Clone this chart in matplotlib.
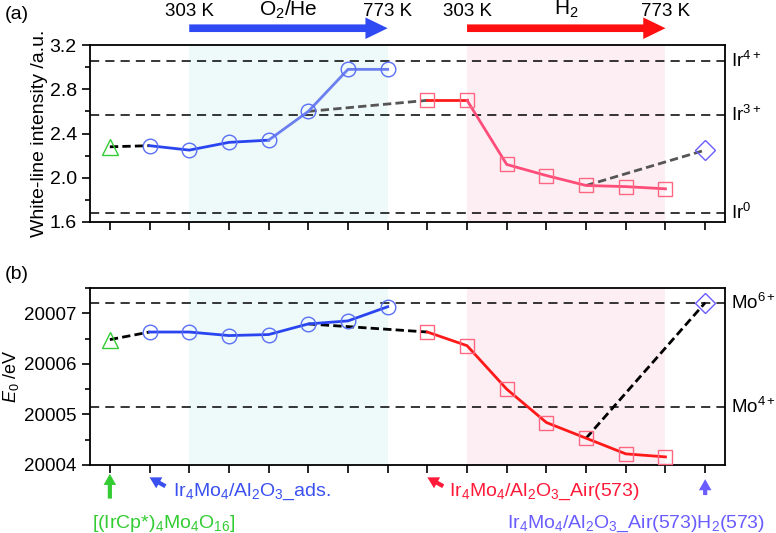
import matplotlib
matplotlib.use('Agg')
import matplotlib.pyplot as plt
from matplotlib.ticker import MultipleLocator, NullFormatter, FormatStrFormatter
import matplotlib.transforms as mtransforms

plt.rcParams['font.family'] = ['Liberation Sans', 'DejaVu Sans']
plt.rcParams['mathtext.fontset'] = 'custom'
plt.rcParams['mathtext.rm'] = 'Liberation Sans'
plt.rcParams['mathtext.it'] = 'Liberation Sans:italic'

# sample positions along the treatment sequence
pos = list(range(16))

# (a) white-line intensity
wl_ref = 2.28                      # [(IrCp*)4Mo4O16]
wl_o2 = [2.29, 2.25, 2.32, 2.34, 2.60, 2.98, 2.98]    # idx 1..7
wl_h2 = [2.70, 2.70, 2.12, 2.02, 1.93, 1.92, 1.90]    # idx 8..14
wl_end = 2.25                      # idx 15
ir_levels = [3.055, 2.567, 1.678]
ir_names = ['Ir$^{4+}$', 'Ir$^{3+}$', 'Ir$^{0}$']

# (b) E0
e0_ref = 20006.48
e0_o2 = [20006.63, 20006.63, 20006.56, 20006.58, 20006.79, 20006.85, 20007.13]
e0_h2 = [20006.63, 20006.36, 20005.50, 20004.84, 20004.53, 20004.22, 20004.16]
e0_end = 20007.21
mo_levels = [20007.21, 20005.14]
mo_names = ['Mo$^{6+}$', 'Mo$^{4+}$']

BLUE = '#2a45f0'
BLUE2 = '#6b7ff0'
CIRC = '#5a70f5'
RED = '#ff1a1a'
PINK = '#ff4d7a'
SQ = '#ff6680'
GREEN = '#33cc33'
PURPLE = '#6a5cff'
CYAN_BG = '#eef9f9'
PINK_BG = '#fdeef4'

fig = plt.figure(figsize=(7.76, 5.33), dpi=100)
axa = fig.add_axes([0.116, 0.5835, 0.8183, 0.332])
axb = fig.add_axes([0.116, 0.1276, 0.8183, 0.332])

o2x = pos[1:8]
h2x = pos[8:15]

for ax in (axa, axb):
    ax.set_xlim(-0.5, 15.5)
    ax.axvspan(2, 7, color=CYAN_BG, zorder=0, lw=0)
    ax.axvspan(9, 14, color=PINK_BG, zorder=0, lw=0)
    ax.set_xticks(pos)
    ax.xaxis.set_major_formatter(NullFormatter())
    ax.tick_params(axis='x', direction='out', length=6, width=1.2, top=False)
    ax.tick_params(axis='y', which='major', direction='out', length=6, width=1.2, labelsize=14, right=False)
    ax.tick_params(axis='y', which='minor', direction='out', length=3.5, width=1.2, right=False)
    for s in ax.spines.values():
        s.set_linewidth(1.3)

# ---- panel (a)
ax = axa
for lv in ir_levels:
    ax.axhline(lv, color='k', lw=1.1, dashes=(6, 4), zorder=1)
ax.plot([0, 1], [wl_ref, wl_o2[0]], color='k', lw=2, dashes=(3, 1.5), zorder=2)
ax.plot([5, 8], [wl_o2[4], wl_h2[0]], color='#555555', lw=2, dashes=(3, 1.5), zorder=2)
ax.plot([12, 15], [wl_h2[4], wl_end], color='#555555', lw=2, dashes=(3, 1.5), zorder=2)
ax.plot(o2x[:4], wl_o2[:4], color=BLUE, lw=2, zorder=3)
ax.plot(o2x[3:], wl_o2[3:], color=BLUE2, lw=2, zorder=3)
ax.plot(h2x[:2], wl_h2[:2], color=RED, lw=2, zorder=3)
ax.plot(h2x[1:], wl_h2[1:], color=PINK, lw=2, zorder=3)
ax.plot(o2x, wl_o2, 'o', ms=10.5, mfc='none', mec=CIRC, mew=1, zorder=4)
ax.plot(h2x, wl_h2, 's', ms=10, mfc='none', mec=SQ, mew=1, zorder=4)
ax.plot([0], [wl_ref], '^', ms=12, mfc='none', mec=GREEN, mew=1, zorder=4)
ax.plot([15], [wl_end], 'D', ms=10, mfc='none', mec=PURPLE, mew=1, zorder=4)
ax.set_ylim(1.6, 3.2)
ax.yaxis.set_major_locator(MultipleLocator(0.4))
ax.yaxis.set_minor_locator(MultipleLocator(0.2))
ax.yaxis.set_major_formatter(FormatStrFormatter('%.1f'))
ax.set_ylabel('White-line intensity /a.u.', fontsize=14)
ax.yaxis.set_label_coords(-0.066, 0.5)
tr = mtransforms.blended_transform_factory(ax.transAxes, ax.transData)
for lv, nm in zip(ir_levels, ir_names):
    ax.text(1.01, lv, nm, transform=tr, fontsize=13.5, va='center', ha='left')
ax.text(-0.134, 1.17, '(a)', transform=ax.transAxes, fontsize=14, va='center')

# treatment arrows
bta = mtransforms.blended_transform_factory(ax.transData, ax.transAxes)
for x0, x1, col, gas in [(2, 7, '#2f4af2', 'O$_2$/He'), (9, 14, '#ff1010', 'H$_2$')]:
    ax.annotate('', xy=(x1, 1.095), xytext=(x0, 1.095), xycoords=bta, textcoords=bta,
                annotation_clip=False,
                arrowprops=dict(arrowstyle='simple,head_length=1.6,head_width=1.55,tail_width=0.55',
                                mutation_scale=10, color=col, lw=0, shrinkA=0, shrinkB=0))
    ax.text(x0, 1.19, '303 K', transform=bta, fontsize=13.5, ha='center', va='center')
    ax.text(x1, 1.19, '773 K', transform=bta, fontsize=13.5, ha='center', va='center')
    ax.text((x0 + x1) / 2, 1.2, gas, transform=bta, fontsize=15, ha='center', va='center')

# ---- panel (b)
ax = axb
for lv in mo_levels:
    ax.axhline(lv, color='k', lw=1.1, dashes=(6, 4), zorder=1)
ax.plot([0, 1], [e0_ref, e0_o2[0]], color='k', lw=2, dashes=(3, 1.5), zorder=2)
ax.plot([5, 8], [e0_o2[4], e0_h2[0]], color='k', lw=2, dashes=(3, 1.5), zorder=2)
ax.plot([12, 15], [e0_h2[4], e0_end], color='k', lw=2, dashes=(3, 1.5), zorder=2)
ax.plot(o2x, e0_o2, color=BLUE, lw=2, zorder=3)
ax.plot(h2x, e0_h2, color=RED, lw=2, zorder=3)
ax.plot(o2x, e0_o2, 'o', ms=10.5, mfc='none', mec=CIRC, mew=1, zorder=4)
ax.plot(h2x, e0_h2, 's', ms=10, mfc='none', mec=SQ, mew=1, zorder=4)
ax.plot([0], [e0_ref], '^', ms=12, mfc='none', mec=GREEN, mew=1, zorder=4)
ax.plot([15], [e0_end], 'D', ms=10, mfc='none', mec=PURPLE, mew=1, zorder=4)
ax.set_ylim(20004, 20007.5)
ax.yaxis.set_major_locator(MultipleLocator(1))
ax.yaxis.set_minor_locator(MultipleLocator(0.5))
ax.yaxis.set_major_formatter(FormatStrFormatter('%d'))
ax.tick_params(axis='y', which='major', labelsize=13.5)
ax.set_ylabel('$E_0$ /eV', fontsize=13)
ax.yaxis.set_label_coords(-0.108, 0.5)
tr = mtransforms.blended_transform_factory(ax.transAxes, ax.transData)
for lv, nm in zip(mo_levels, mo_names):
    ax.text(1.01, lv, nm, transform=tr, fontsize=13.5, va='center', ha='left')
ax.text(-0.134, 1.075, '(b)', transform=ax.transAxes, fontsize=14, va='center')

# sample labels under panel (b)
bt = mtransforms.blended_transform_factory(ax.transData, ax.transAxes)
samples = [
    (GREEN, (0, -0.05), (0, -0.19), '[(IrCp*)$_4$Mo$_4$O$_{16}$]', (-0.45, -0.33)),
    ('#3a50f0', (1, -0.07), (1.4, -0.12), 'Ir$_4$Mo$_4$/Al$_2$O$_3$_ads.', (1.6, -0.15)),
    ('#ff1a3a', (8, -0.07), (8.4, -0.12), 'Ir$_4$Mo$_4$/Al$_2$O$_3$_Air(573)', (8.55, -0.15)),
    ('#6a5cff', (15, -0.08), (15, -0.17), 'Ir$_4$Mo$_4$/Al$_2$O$_3$_Air(573)H$_2$(573)', (10.0, -0.33)),
]
for col, tip, tail, lab, lp in samples:
    ax.annotate('', xy=tip, xytext=tail, xycoords=bt, textcoords=bt, annotation_clip=False,
                arrowprops=dict(arrowstyle='simple,head_length=0.8,head_width=0.9,tail_width=0.3',
                                mutation_scale=10, color=col, lw=0, shrinkA=0, shrinkB=0))
    ax.text(lp[0], lp[1], lab, transform=bt, color=col, fontsize=14, ha='left', va='center')

fig.savefig('out.png', dpi=100)
